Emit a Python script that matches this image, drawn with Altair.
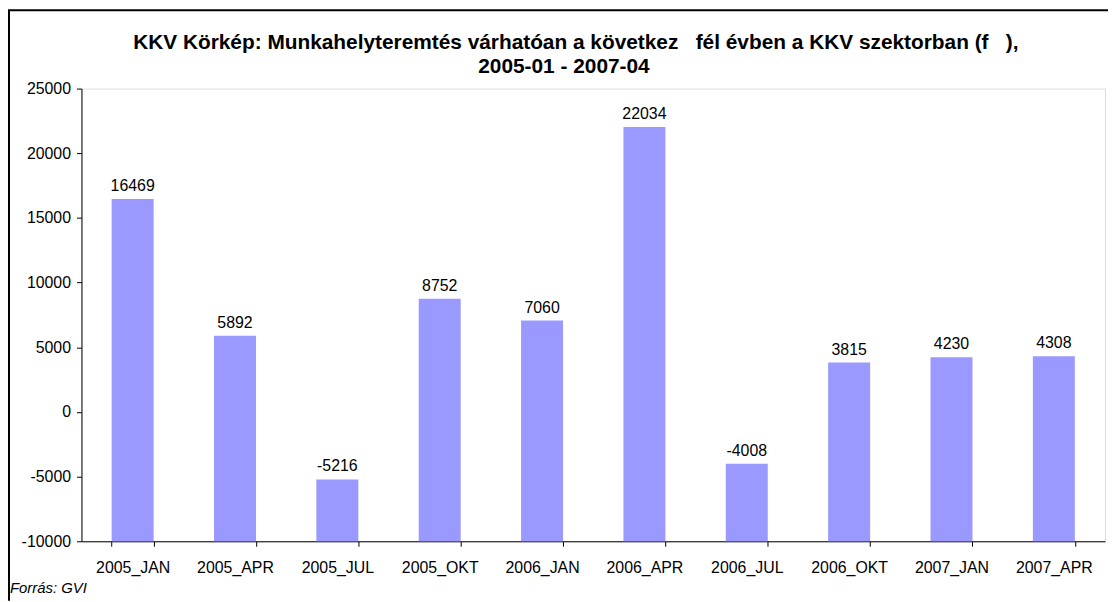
import altair as alt
import pandas as pd

categories = ["2005_JAN", "2005_APR", "2005_JUL", "2005_OKT", "2006_JAN",
              "2006_APR", "2006_JUL", "2006_OKT", "2007_JAN", "2007_APR"]
values = [16469, 5892, -5216, 8752, 7060, 22034, -4008, 3815, 4230, 4308]
y_ticks = [-10000, -5000, 0, 5000, 10000, 15000, 20000, 25000]
axis_floor = -10000
title_lines = ["KKV Körkép: Munkahelyteremtés várhatóan a következ\u00a0\u00a0\u00a0fél évben a KKV szektorban (f\u00a0\u00a0\u00a0),",
               "2005-01 - 2007-04"]
source_text = "Forrás: GVI"

df = pd.DataFrame({"cat": categories, "val": values, "base": [axis_floor] * len(values)})

W, H = 1031, 456
font = "Liberation Sans"

xenc = alt.X("cat:N", sort=categories, title=None,
             scale=alt.Scale(paddingInner=0.59, paddingOuter=0.295),
             axis=alt.Axis(labelAngle=0, labelFont=font, labelFontSize=16, labelColor="#000",
                           tickBand="extent", tickSize=5, tickColor="#000", domainColor="#000",
                           labelPadding=13, grid=False))
yscale = alt.Scale(domain=[-10000, 25000], nice=False, zero=False)

bars = alt.Chart(df).mark_bar(color="#9999FF").encode(
    x=xenc,
    y=alt.Y("val:Q", scale=yscale, title=None,
            axis=alt.Axis(values=y_ticks, labelExpr="datum.value + ''", labelFont=font,
                          labelFontSize=16, labelColor="#000", tickSize=5, tickColor="#000",
                          domainColor="#000", labelPadding=6, grid=False)),
    y2="base:Q",
)

labels = alt.Chart(df).transform_calculate(lbl="datum.val + ''").mark_text(
    font=font, fontSize=16, color="#000", baseline="alphabetic", dy=-8
).encode(
    x=alt.X("cat:N", sort=categories),
    y=alt.Y("val:Q", scale=yscale),
    text="lbl:N",
)

one = alt.Data(values=[{"k": 0}])
border_left = alt.Chart(one).mark_rule(color="#000", strokeWidth=2).encode(
    x=alt.value(-73), y=alt.value(-79), y2=alt.value(H + 60))
border_top = alt.Chart(one).mark_rule(color="#000", strokeWidth=2).encode(
    x=alt.value(-74), x2=alt.value(W + 10), y=alt.value(-79))
source = alt.Chart(one).mark_text(
    text=source_text, font=font, fontSize=15, fontStyle="italic", color="#000",
    align="left", baseline="middle"
).encode(x=alt.value(-72), y=alt.value(503))
title1 = alt.Chart(one).mark_text(
    text=title_lines[0], font=font, fontSize=21, fontWeight="bold", color="#000",
    align="center", baseline="middle"
).encode(x=alt.value(498), y=alt.value(-46))
title2 = alt.Chart(one).mark_text(
    text=title_lines[1], font=font, fontSize=21, fontWeight="bold", color="#000",
    align="center", baseline="middle"
).encode(x=alt.value(486), y=alt.value(-22))

chart = alt.layer(bars, labels, border_left, border_top, source, title1, title2).properties(
    width=W, height=H,
    autosize=alt.AutoSizeParams(type="none"),
    padding={"left": 74, "top": 79, "right": 3, "bottom": 58},
).configure_view(stroke=None).configure(background="white")

chart.save("out.html", embed_options={"renderer": "svg", "actions": False})
